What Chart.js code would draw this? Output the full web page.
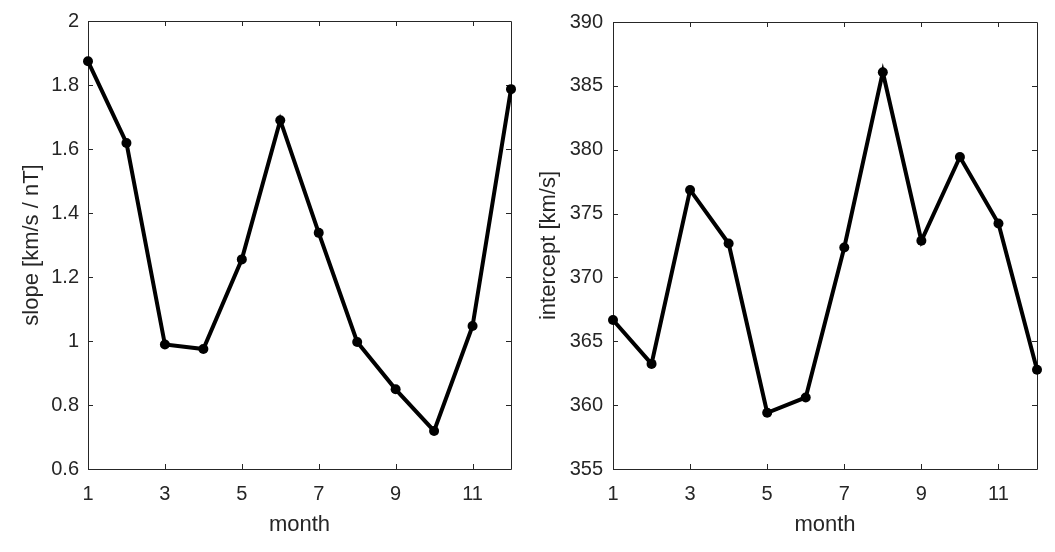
<!DOCTYPE html>
<html>
<head>
<meta charset="utf-8">
<title>slope / intercept por mes</title>
<script src="https://cdn.jsdelivr.net/npm/chart.js@4/dist/chart.umd.min.js"></script>
<style>
    body { margin: 0; background: #fff; width: 1055px; height: 552px; overflow: hidden; position: relative; }
    canvas { position: absolute; top: 0; }
    #grafica1 { left: 0px; }
    #grafica2 { left: 520px; }
</style>
</head>
<body>
<canvas id="grafica1" width="540" height="552"></canvas>
<canvas id="grafica2" width="535" height="552"></canvas>
<script>
// Datos
const meses = [1, 2, 3, 4, 5, 6, 7, 8, 9, 10, 11, 12];
const pendiente = [1.874, 1.619, 0.989, 0.975, 1.255, 1.690, 1.338, 0.997, 0.849, 0.719, 1.047, 1.787];
const intercepto = [366.67, 363.23, 376.85, 372.66, 359.4, 360.6, 372.34, 386.07, 372.87, 379.43, 374.22, 362.77];

// Marcas de los ejes
const ticksMes = [1, 3, 5, 7, 9, 11];
const ticksPendiente = [0.6, 0.8, 1, 1.2, 1.4, 1.6, 1.8, 2];
const ticksIntercepto = [355, 360, 365, 370, 375, 380, 385, 390];

const colorEje = '#262626';
const fuente = '"Liberation Sans", Arial, Helvetica, sans-serif';

// Dibuja la caja y las marcas hacia dentro en los cuatro lados (estilo matlab)
const cajaPlugin = {
    id: 'caja',
    beforeDatasetsDraw(chart) {
        const { ctx, chartArea: a, scales } = chart;
        const largo = 5;
        ctx.save();
        ctx.strokeStyle = colorEje;
        ctx.lineWidth = 1;
        ctx.beginPath();
        ctx.rect(Math.round(a.left) + 0.5, Math.round(a.top) + 0.5, Math.round(a.width), Math.round(a.height));
        scales.x.ticks.forEach((t) => {
            let px = Math.round(scales.x.getPixelForValue(t.value)) + 0.5;
            ctx.moveTo(px, a.bottom); ctx.lineTo(px, a.bottom - largo);
            ctx.moveTo(px, a.top); ctx.lineTo(px, a.top + largo);
        });
        scales.y.ticks.forEach((t) => {
            let py = Math.round(scales.y.getPixelForValue(t.value)) + 0.5;
            ctx.moveTo(a.left, py); ctx.lineTo(a.left + largo, py);
            ctx.moveTo(a.right, py); ctx.lineTo(a.right - largo, py);
        });
        ctx.stroke();
        ctx.restore();
    }
};

function crearGrafica(idCanvas, valores, ticksY, tituloY, anchoY, padTitulo, padTicks, padDerecha) {
    const ctx = document.getElementById(idCanvas);
    return new Chart(ctx, {
        type: 'line',
        data: {
            datasets: [{
                data: meses.map((m, i) => ({ x: m, y: valores[i] })),
                borderColor: '#000',
                backgroundColor: '#000',
                borderWidth: 4,
                pointRadius: 5,
                pointHoverRadius: 5,
                pointBackgroundColor: '#000',
                pointBorderWidth: 0,
                tension: 0,
                clip: false
            }]
        },
        options: {
            responsive: false,
            animation: false,
            devicePixelRatio: 1,
            layout: { padding: { left: 0, right: padDerecha, top: 21, bottom: 0 } },
            plugins: { legend: { display: false }, tooltip: { enabled: false } },
            scales: {
                x: {
                    type: 'linear',
                    min: 1,
                    max: 12,
                    afterBuildTicks: (scale) => { scale.ticks = ticksMes.map((v) => ({ value: v })); },
                    afterFit: (scale) => { scale.height = 83; },
                    grid: { display: false, drawTicks: false },
                    border: { display: false },
                    ticks: { color: colorEje, font: { family: fuente, size: 20 }, padding: 13, maxRotation: 0 },
                    title: { display: true, text: 'month', color: colorEje, font: { family: fuente, size: 22 }, padding: { top: 0, bottom: 14 } }
                },
                y: {
                    type: 'linear',
                    min: ticksY[0],
                    max: ticksY[ticksY.length - 1],
                    afterBuildTicks: (scale) => { scale.ticks = ticksY.map((v) => ({ value: v })); },
                    afterFit: (scale) => { scale.width = anchoY; },
                    grid: { display: false, drawTicks: false },
                    border: { display: false },
                    ticks: {
                        color: colorEje,
                        font: { family: fuente, size: 20 },
                        padding: padTicks,
                        callback: (v) => String(Math.round(v * 10) / 10)
                    },
                    title: { display: true, text: tituloY, color: colorEje, font: { family: fuente, size: 22 }, padding: { top: padTitulo, bottom: 0 } }
                }
            }
        },
        plugins: [cajaPlugin]
    });
}

crearGrafica('grafica1', pendiente, ticksPendiente, 'slope [km/s / nT]', 88, 19, 9, 29);
crearGrafica('grafica2', intercepto, ticksIntercepto, 'intercept [km/s]', 93, 16, 10, 18);
</script>
</body>
</html>
